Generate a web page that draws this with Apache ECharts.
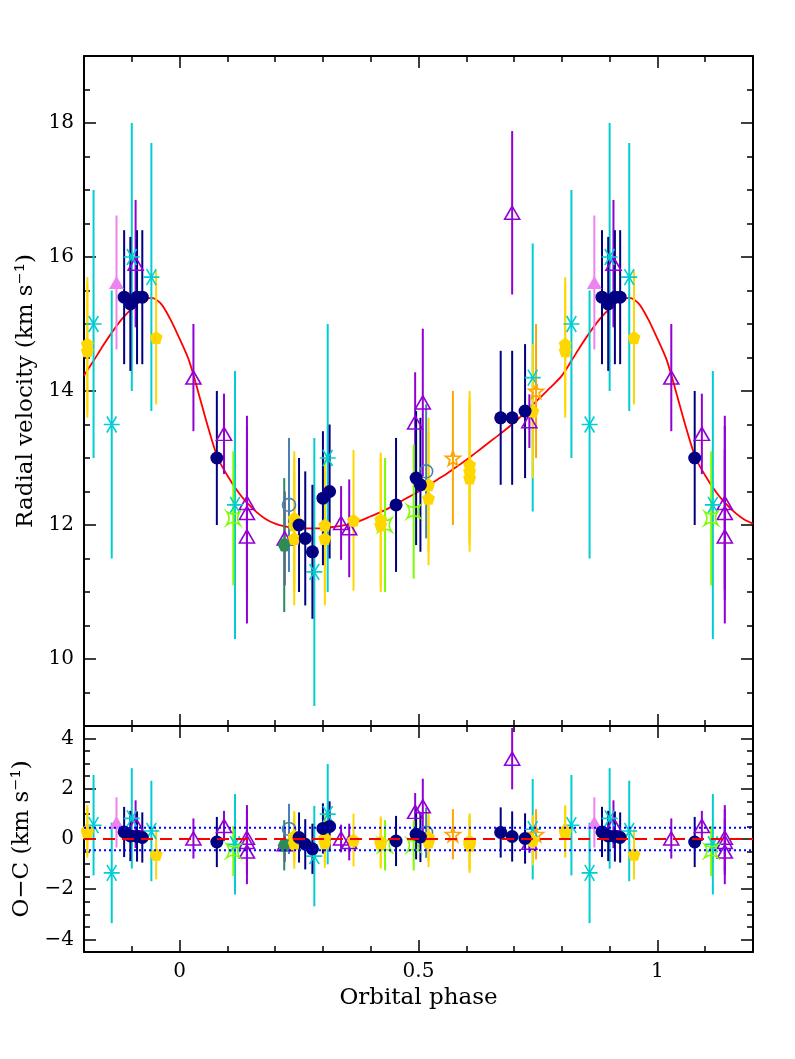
<!DOCTYPE html>
<html>
<head>
<meta charset="utf-8">
<title>Radial velocity curve</title>
<script src="https://cdn.jsdelivr.net/npm/echarts@6/dist/echarts.min.js"></script>
<style>
  html, body { margin: 0; padding: 0; background: #fff; }
  #rv_con { width: 795px; height: 1059px; }
</style>
</head>
<body>
<div id="rv_con"></div>
<script>
// shown phase window (points are repeated one cycle either side)
var phaseMin = -0.2, phaseMax = 1.2;

// tick labels
var phaseTicks = [0, 0.5, 1];
var rvTicks = [10, 12, 14, 16, 18];
var ocTicks = [-4, -2, 0, 2, 4];

// orbital fit (phase 0..1, km/s)
var modelPhase = [0.00, 0.02, 0.04, 0.06, 0.08, 0.10, 0.12, 0.14, 0.16, 0.18, 0.20, 0.22, 0.24, 0.26, 0.28, 0.30,
                  0.32, 0.34, 0.36, 0.38, 0.40, 0.42, 0.44, 0.46, 0.48, 0.50, 0.52, 0.54, 0.56, 0.58, 0.60, 0.62,
                  0.64, 0.66, 0.68, 0.70, 0.72, 0.74, 0.76, 0.78, 0.80, 0.82, 0.84, 0.86, 0.88, 0.90, 0.92, 0.94,
                  0.96, 0.98];
var modelRv = [14.78, 14.45, 13.96, 13.45, 13.00, 12.74, 12.52, 12.34, 12.20, 12.09, 12.02, 11.98, 11.96, 11.95, 11.95, 11.95,
               11.97, 11.99, 12.02, 12.07, 12.13, 12.19, 12.26, 12.34, 12.42, 12.50, 12.59, 12.68, 12.77, 12.87, 12.97, 13.08,
               13.19, 13.30, 13.41, 13.53, 13.66, 13.80, 13.94, 14.08, 14.23, 14.45, 14.68, 14.89, 15.08, 15.23, 15.35, 15.39,
               15.31, 15.08];
var ocZero = 0;
var ocRms = 0.45;

// measurements: phase, RV, error, O-C
var navyPhase = [0.078, 0.250, 0.263, 0.278, 0.300, 0.314, 0.453, 0.495, 0.504, 0.672, 0.696, 0.723, 0.884, 0.897, 0.911, 0.922];
var navyRv = [13.0, 12.0, 11.8, 11.6, 12.4, 12.5, 12.3, 12.7, 12.6, 13.6, 13.6, 13.7, 15.4, 15.3, 15.4, 15.4];
var navyErr = [1, 1, 1, 1, 1, 1, 1, 1, 1, 1, 1, 1, 1, 1, 1, 1];
var navyOc = [-0.12, 0.06, -0.21, -0.39, 0.42, 0.50, -0.08, 0.19, 0.08, 0.26, 0.10, 0.02, 0.28, 0.12, 0.10, 0.06];

var cyanPhase = [0.116, 0.282, 0.310, 0.739, 0.820, 0.858, 0.900, 0.941];
var cyanRv = [12.3, 11.3, 13.0, 14.2, 15.0, 13.5, 16.0, 15.7];
var cyanErr = [2, 2, 2, 2, 2, 2, 2, 2];
var cyanOc = [-0.21, -0.68, 0.99, 0.39, 0.55, -1.35, 0.82, 0.32];

var purplePhase = [0.029, 0.093, 0.141, 0.141, 0.141, 0.220, 0.338, 0.355, 0.493, 0.509, 0.696, 0.732, 0.908];
var purpleRv = [14.2, 13.36, 12.33, 12.18, 11.83, 11.8, 12.03, 11.95, 13.53, 13.83, 16.66, 13.55, 15.9];
var purpleErr = [0.8, 0.6, 1.3, 1.3, 1.3, 0.7, 0.55, 0.73, 0.75, 1.1, 1.22, 0.4, 0.95];
var purpleOc = [0.02, 0.52, 0.05, -0.12, -0.50, -0.21, 0.02, -0.12, 1.08, 1.30, 3.20, -0.15, 0.59];

var goldPhase = [0.240, 0.240, 0.240, 0.304, 0.304, 0.364, 0.421, 0.421, 0.521, 0.521, 0.607, 0.607, 0.607, 0.739, 0.807, 0.807, 0.951];
var goldRv = [12.1, 12.0, 11.8, 12.0, 11.8, 12.07, 12.08, 12.0, 12.6, 12.4, 12.9, 12.8, 12.7, 13.7, 14.7, 14.6, 14.8];
var goldErr = [1, 1, 1, 1, 1, 1.05, 1, 1, 1, 1, 1.1, 1.1, 1.1, 1, 1, 1, 1];
var goldOc = [0.12, 0.02, -0.18, 0.05, -0.15, -0.04, -0.10, -0.18, 0.08, -0.12, -0.08, -0.17, -0.25, -0.05, 0.35, 0.26, -0.61];

var violetPhase = [0.868];
var violetRv = [15.62];
var violetErr = [1];
var violetOc = [0.66];

var limePhase = [0.1125, 0.430, 0.490];
var limeRv = [12.1, 12.0, 12.2];
var limeErr = [1, 1, 1];
var limeOc = [-0.48, -0.25, -0.25];

var orangePhase = [0.572, 0.746];
var orangeRv = [13.0, 14.0];
var orangeErr = [1, 1];
var orangeOc = [0.19, 0.19];

var steelPhase = [0.229, 0.516];
var steelRv = [12.3, 12.8];
var steelErr = [1, 1];
var steelOc = [0.40, 0.25];

var seaPhase = [0.219];
var seaRv = [11.7];
var seaErr = [1];
var seaOc = [-0.25];

var serif = 'DejaVu Serif';
var CLEAR = 'rgba(0,0,0,0)';

var groups = [
    { ph: purplePhase, rv: purpleRv, err: purpleErr, oc: purpleOc, color: '#9400D3', symbol: 'triangle', size: [15, 13], open: true },
    { ph: cyanPhase, rv: cyanRv, err: cyanErr, oc: cyanOc, color: '#00CED1', symbol: 'path://M-10,0L10,0M-6,-8L6,8M-6,8L6,-8', size: 16, open: true },
    { ph: steelPhase, rv: steelRv, err: steelErr, oc: steelOc, color: '#4682B4', symbol: 'circle', size: 13, open: true },
    { ph: seaPhase, rv: seaRv, err: seaErr, oc: seaOc, color: '#2E8B57', symbol: 'path://M-5,-9L5,-9L10,0L5,9L-5,9L-10,0Z', size: 13, open: false },
    { ph: limePhase, rv: limeRv, err: limeErr, oc: limeOc, color: '#7CFC00', symbol: 'path://M-10,-10Q0,-3 10,-10Q3,0 10,10Q0,3 -10,10Q-3,0 -10,-10Z', size: 13, open: true },
    { ph: orangePhase, rv: orangeRv, err: orangeErr, oc: orangeOc, color: '#FFA500', symbol: 'path://M0,-10L2.35,-3.24L9.51,-3.09L3.8,1.24L5.88,8.09L0,4L-5.88,8.09L-3.8,1.24L-9.51,-3.09L-2.35,-3.24Z', size: 15, open: true },
    { ph: violetPhase, rv: violetRv, err: violetErr, oc: violetOc, color: '#EE82EE', symbol: 'triangle', size: [15, 13], open: false },
    { ph: goldPhase, rv: goldRv, err: goldErr, oc: goldOc, color: '#FFD700', symbol: 'path://M0,-10L9.51,-3.09L5.88,8.09L-5.88,8.09L-9.51,-3.09Z', size: 13, open: false },
    { ph: navyPhase, rv: navyRv, err: navyErr, oc: navyOc, color: '#000080', symbol: 'circle', size: 13, open: false }
];

// repeat each phase one cycle earlier / later when it falls inside the window
function unfold(ph, val, err) {
    var out = [];
    ph.forEach(function (p, i) {
        [-1, 0, 1].forEach(function (k) {
            var q = p + k;
            if (q >= phaseMin - 1e-9 && q <= phaseMax + 1e-9) {
                out.push(err ? [q, val[i], err[i]] : [q, val[i]]);
            }
        });
    });
    return out;
}

function minus(v) {
    return String(v).replace('-', '\u2212');
}

function errBars(data, color, xi, yi) {
    return {
        type: 'custom', xAxisIndex: xi, yAxisIndex: yi, data: data, clip: true, z: 3,
        encode: { x: 0, y: 1 },
        renderItem: function (params, api) {
            var x = api.value(0), y = api.value(1), e = api.value(2);
            var a = api.coord([x, y - e]);
            var b = api.coord([x, y + e]);
            return { type: 'line', shape: { x1: a[0], y1: a[1], x2: b[0], y2: b[1] },
                     style: { stroke: color, lineWidth: 2 } };
        }
    };
}

function marks(data, g, xi, yi) {
    return {
        type: 'scatter', xAxisIndex: xi, yAxisIndex: yi, z: 4,
        data: data.map(function (d) { return [d[0], d[1]]; }),
        symbol: g.symbol, symbolSize: g.size,
        itemStyle: g.open
            ? { color: CLEAR, borderColor: g.color, borderWidth: 1.6, opacity: 1 }
            : { color: g.color, opacity: 1 }
    };
}

function hLine(y, color, type, width, xi, yi) {
    return {
        type: 'line', xAxisIndex: xi, yAxisIndex: yi, z: 6, showSymbol: false, silent: true,
        data: [[phaseMin, y], [phaseMax, y]],
        lineStyle: { color: color, type: type, width: width }
    };
}

// two axes per side of each panel: major (custom ticks) + minor (regular interval)
function xAxes(gi, pos, labels, name) {
    return [
        { type: 'value', gridIndex: gi, position: pos, min: phaseMin, max: phaseMax,
          axisLine: { show: true, onZero: false, lineStyle: { color: '#000', width: 2 } },
          axisTick: { show: true, inside: true, length: 12, customValues: phaseTicks, lineStyle: { color: '#000', width: 1.5 } },
          axisLabel: { show: labels, customValues: phaseTicks, margin: 10, color: '#000', fontFamily: serif, fontSize: 20 },
          splitLine: { show: false },
          name: name || '', nameLocation: 'middle', nameGap: 35,
          nameTextStyle: { color: '#000', fontFamily: serif, fontSize: 23 } },
        { type: 'value', gridIndex: gi, position: pos, min: phaseMin, max: phaseMax, interval: 0.1,
          axisLine: { show: false, onZero: false },
          axisTick: { show: true, inside: true, length: 6, lineStyle: { color: '#000', width: 1.5 } },
          axisLabel: { show: false }, splitLine: { show: false } }
    ];
}

function yAxes(gi, pos, lo, hi, ticks, labels, name) {
    return [
        { type: 'value', gridIndex: gi, position: pos, min: lo, max: hi,
          axisLine: { show: true, onZero: false, lineStyle: { color: '#000', width: 2 } },
          axisTick: { show: true, inside: true, length: 12, customValues: ticks, lineStyle: { color: '#000', width: 1.5 } },
          axisLabel: { show: labels, customValues: ticks, margin: 10, color: '#000', fontFamily: serif, fontSize: 20, formatter: minus },
          splitLine: { show: false },
          name: name || '', nameLocation: 'middle', nameGap: 42,
          nameTextStyle: { color: '#000', fontFamily: serif, fontSize: 23 } },
        { type: 'value', gridIndex: gi, position: pos, min: lo, max: hi, interval: 0.5,
          axisLine: { show: false, onZero: false },
          axisTick: { show: true, inside: true, length: 6, lineStyle: { color: '#000', width: 1.5 } },
          axisLabel: { show: false }, splitLine: { show: false } }
    ];
}

var xAxis = [].concat(
    xAxes(0, 'bottom', false), xAxes(0, 'top', false),
    xAxes(1, 'bottom', true, 'Orbital phase'), xAxes(1, 'top', false)
);
var yAxis = [].concat(
    yAxes(0, 'left', 9, 19, rvTicks, true, 'Radial velocity (km s\u207B\u00B9)'), yAxes(0, 'right', 9, 19, rvTicks, false),
    yAxes(1, 'left', -4.5, 4.5, ocTicks, true, 'O\u2212C (km s\u207B\u00B9)'), yAxes(1, 'right', -4.5, 4.5, ocTicks, false)
);

var curve = unfold(modelPhase, modelRv).sort(function (a, b) { return a[0] - b[0]; });

var series = [{
    type: 'line', xAxisIndex: 0, yAxisIndex: 0, z: 2, showSymbol: false, silent: true,
    smooth: 0.3, data: curve,
    lineStyle: { color: '#FF0000', width: 1.8 }
}];

groups.forEach(function (g) {
    var top = unfold(g.ph, g.rv, g.err);
    var bottom = unfold(g.ph, g.oc, g.err);
    series.push(errBars(top, g.color, 0, 0), marks(top, g, 0, 0));
    series.push(errBars(bottom, g.color, 4, 4), marks(bottom, g, 4, 4));
});

series.push(
    hLine(ocZero, '#FF0000', [12, 7], 2, 4, 4),
    hLine(ocRms, '#0000FF', [2, 3], 2, 4, 4),
    hLine(-ocRms, '#0000FF', [2, 3], 2, 4, 4)
);

var chart = echarts.init(document.getElementById('rv_con'));
chart.setOption({
    animation: false,
    backgroundColor: '#fff',
    grid: [
        { left: 84, top: 56, width: 669, height: 670 },
        { left: 84, top: 726, width: 669, height: 226 }
    ],
    xAxis: xAxis,
    yAxis: yAxis,
    series: series
});
window.addEventListener('resize', function () { chart.resize(); });
</script>
</body>
</html>
